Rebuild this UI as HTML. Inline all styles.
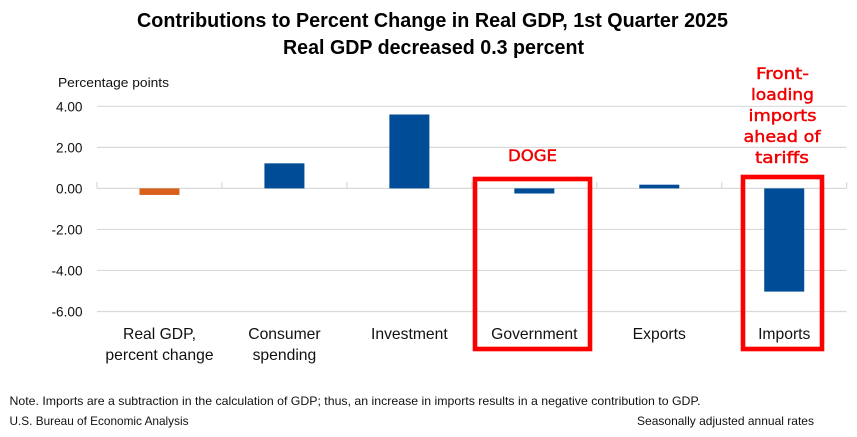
<!DOCTYPE html>
<html lang="en">
<head>
<meta charset="utf-8">
<title>Contributions to Percent Change in Real GDP</title>
<style>
html,body{margin:0;padding:0;background:#fff;width:857px;height:437px;overflow:hidden}
svg{display:block}
text{font-family:"Liberation Sans",Arial,sans-serif;fill:#111}
.title{font-size:20px;font-weight:700;fill:#000;text-anchor:start}
.small{font-size:12px}
.axis{font-size:13.6px;text-anchor:end}
.cat{font-size:15.7px;text-anchor:middle}
.red{font-family:"DejaVu Sans",sans-serif;font-size:16px;font-weight:400;fill:#f00000;stroke:#f00000;stroke-width:.45px;text-anchor:start}
</style>
</head>
<body>
<svg id="chart" xmlns="http://www.w3.org/2000/svg" width="857" height="437" viewBox="0 0 857 437">
  <rect width="857" height="437" fill="#fff"/>
  <text class="title" x="137" y="27" textLength="591" lengthAdjust="spacingAndGlyphs">Contributions to Percent Change in Real GDP, 1st Quarter 2025</text>
  <text class="title" x="283" y="54" textLength="301" lengthAdjust="spacingAndGlyphs">Real GDP decreased 0.3 percent</text>
  <text class="small" x="58" y="87" style="font-size:13px" textLength="111" lengthAdjust="spacingAndGlyphs">Percentage points</text>
  <g id="grid"></g>
  <g id="ylabels"></g>
  <g id="bars"></g>
  <g id="xlabels"></g>
  <rect x="475" y="179" width="115" height="170" fill="none" stroke="#ff0000" stroke-width="4.6"/>
  <rect x="743" y="177" width="79" height="172" fill="none" stroke="#ff0000" stroke-width="4.6"/>
  <text class="red" x="508" y="161" textLength="49" lengthAdjust="spacingAndGlyphs">DOGE</text>
  <g>
    <text class="red" x="756" y="79" textLength="53" lengthAdjust="spacingAndGlyphs">Front-</text>
    <text class="red" x="751" y="100" textLength="63" lengthAdjust="spacingAndGlyphs">loading</text>
    <text class="red" x="748.5" y="121" textLength="68" lengthAdjust="spacingAndGlyphs">imports</text>
    <text class="red" x="743.5" y="142" textLength="77" lengthAdjust="spacingAndGlyphs">ahead of</text>
    <text class="red" x="755" y="163" textLength="54" lengthAdjust="spacingAndGlyphs">tariffs</text>
  </g>
  <text class="small" x="9.5" y="405" textLength="691" lengthAdjust="spacingAndGlyphs">Note. Imports are a subtraction in the calculation of GDP; thus, an increase in imports results in a negative contribution to GDP.</text>
  <text class="small" x="9.5" y="425" textLength="179" lengthAdjust="spacingAndGlyphs">U.S. Bureau of Economic Analysis</text>
  <text class="small" x="637" y="425" textLength="177" lengthAdjust="spacingAndGlyphs">Seasonally adjusted annual rates</text>
</svg>
<script>
const categories = [["Real GDP,", "percent change"], ["Consumer", "spending"], ["Investment"], ["Government"], ["Exports"], ["Imports"]];
const seriesValues = [-0.32, 1.22, 3.6, -0.25, 0.18, -5.03];
const tickValues = [4, 2, 0, -2, -4, -6];
const tickLabels = ["4.00", "2.00", "0.00", "-2.00", "-4.00", "-6.00"];

const NS = 'http://www.w3.org/2000/svg';
const plotLeft = 97, plotRight = 846.7, yTop = 106.3, yBottom = 311.5;
const yMax = Math.max(...tickValues), yMin = Math.min(...tickValues);
const yScale = v => yTop + (yMax - v) * (yBottom - yTop) / (yMax - yMin);
const bandWidth = (plotRight - plotLeft) / categories.length;
const xLeft = i => plotLeft + i * bandWidth;
const xCenter = i => xLeft(i) + bandWidth / 2;
const barWidth = 40;

function make(tag, attrs, text) {
  const el = document.createElementNS(NS, tag);
  for (const k in attrs) el.setAttribute(k, attrs[k]);
  if (text !== undefined) el.textContent = text;
  return el;
}

const grid = document.getElementById('grid');
const ylabels = document.getElementById('ylabels');
tickValues.forEach((v, i) => {
  const y = yScale(v);
  const line = make('line', {x1: plotLeft, x2: plotRight, y1: y, y2: y, stroke: '#d9d9d9', 'stroke-width': 1.2});
  
  
  grid.appendChild(line);
  const label = make('text', {class: 'axis', x: 82.5, y: y + 5}, tickLabels[i]);
  
  
  ylabels.appendChild(label);
});

for (let i = 0; i <= categories.length; i++) {
  const x = xLeft(i);
  const tick = make('line', {x1: x, x2: x, y1: yScale(0), y2: yScale(0) - 6.5, stroke: '#d9d9d9', 'stroke-width': 1.2});
  
  
  grid.appendChild(tick);
}

const bars = document.getElementById('bars');
const xlabels = document.getElementById('xlabels');
categories.forEach((lines, i) => {
  const v = seriesValues[i];
  const y0 = yScale(0), y1 = yScale(v);
  const bar = make('rect', {
    x: xCenter(i) - barWidth / 2,
    y: Math.min(y0, y1),
    width: barWidth,
    height: Math.abs(y1 - y0),
    fill: i === 0 ? '#d9601a' : '#004c97'
  });
  
  
  bars.appendChild(bar);
  lines.forEach((line, j) => {
    const t = make('text', {class: 'cat', x: xCenter(i), y: 339 + j * 21}, line);
    
    
    xlabels.appendChild(t);
  });
});
</script>
</body>
</html>
